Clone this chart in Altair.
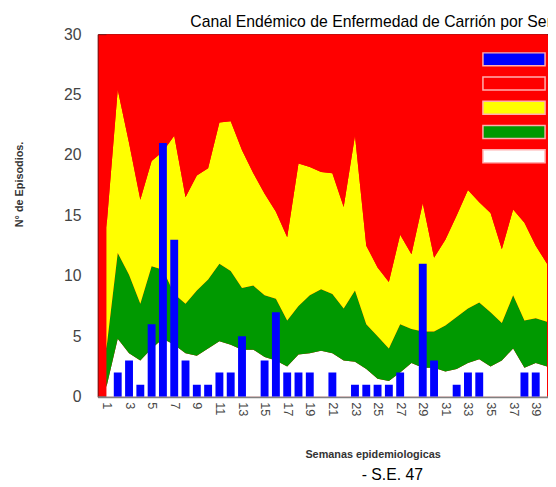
import altair as alt
import pandas as pd

# ---- data ----
semanas = list(range(1, 41))
casos = [0, 2, 3, 1, 6, 21, 13, 3, 1, 1, 2, 2, 5, 0, 3, 7, 2, 2, 2, 0,
         2, 0, 1, 1, 1, 1, 2, 0, 11, 3, 0, 1, 2, 2, 0, 0, 0, 2, 2, 0]
exito = [0.8, 4.8, 3.6, 3.0, 4.0, 4.8, 4.3, 3.6, 3.4, 4.0, 4.6, 4.3, 3.9, 3.9, 3.3, 3.0,
         2.5, 3.5, 3.6, 3.8, 3.6, 3.0, 2.9, 2.3, 1.5, 1.3, 2.0, 2.8, 2.4, 2.4, 2.1, 2.3,
         2.8, 3.1, 2.5, 3.0, 4.0, 2.4, 2.8, 2.5]
seguridad = [4.0, 11.9, 10.1, 7.7, 10.8, 10.5, 8.5, 7.7, 8.8, 9.7, 11.0, 10.4, 9.0, 9.2,
             8.4, 8.1, 6.3, 7.5, 8.4, 8.9, 8.5, 7.3, 8.8, 6.0, 5.0, 4.0, 6.0, 5.6, 5.4, 5.4,
             5.9, 6.6, 7.3, 7.8, 7.0, 6.1, 8.4, 6.3, 6.5, 6.2]
alarma = [14.0, 25.4, 21.0, 16.3, 19.5, 20.3, 21.6, 16.5, 18.3, 18.9, 22.7, 22.8, 20.4,
          18.5, 16.8, 15.3, 13.2, 19.3, 19.0, 18.6, 18.5, 15.7, 21.6, 12.5, 10.7, 9.5,
          13.4, 11.8, 16.0, 11.5, 13.0, 15.0, 17.1, 16.1, 15.2, 12.2, 15.5, 14.4, 12.5, 11.0]
techo = 30

series = ["Casos", "Epidemia", "Alarma", "Seguridad", "Éxito"]
colores = ["#0000FF", "#FF0000", "#FFFF00", "#009900", "#FFFFFF"]
etiquetas_x = list(range(1, 40, 2))
etiquetas_y = [0, 5, 10, 15, 20, 25, 30]

rows = []
for i, w in enumerate(semanas):
    rows.append(dict(semana=w, serie="Éxito", lo=0, hi=exito[i]))
    rows.append(dict(semana=w, serie="Seguridad", lo=exito[i], hi=seguridad[i]))
    rows.append(dict(semana=w, serie="Alarma", lo=seguridad[i], hi=alarma[i]))
    rows.append(dict(semana=w, serie="Epidemia", lo=alarma[i], hi=techo))
areas_df = pd.DataFrame(rows)
bars_df = pd.DataFrame(dict(semana=semanas[:39], casos=casos[:39], serie="Casos"))

FONT = "Liberation Sans"
x_scale = alt.Scale(domain=[0.66, 39.65], nice=False, zero=False)
y_scale = alt.Scale(domain=[0, 30], nice=False)
color_scale = alt.Scale(domain=series, range=colores)

legend = alt.Legend(
    title=None, orient="none", legendX=415, legendY=18,
    symbolType="M-4.85,-1H4.85V1H-4.85Z", symbolSize=169,
    symbolStrokeColor="#ffb0b0", symbolStrokeWidth=1.5, symbolOpacity=1,
    rowPadding=5.6, labelOffset=40, labelFontSize=11, labelFont=FONT,
    labelColor="black", labelExpr="''", padding=0,
)

x_axis = alt.Axis(
    values=etiquetas_x, labelAngle=90, labelPadding=5, labelFontSize=13,
    labelFont=FONT, labelColor="#444444", ticks=False, grid=False,
    domain=True, domainColor="#808080", domainWidth=2, labelOverlap=False,
    labelFlush=False, labelSeparation=0,
    title="Semanas epidemiologicas", titleX=279, titleY=59,
    titleFontSize=11, titleFont=FONT, titleFontWeight="bold",
    titleColor="#333333", titleBaseline="middle",
)
y_axis = alt.Axis(
    values=etiquetas_y, ticks=False, domain=False, grid=False,
    labelPadding=17, labelFontSize=16, labelFont=FONT, labelColor="#444444",
    title="N° de Episodios.", titleX=-79, titleY=152, titleFontSize=11,
    titleFont=FONT, titleFontWeight="bold", titleColor="#333333",
    titleBaseline="middle", titleAlign="center",
)

areas = alt.Chart(areas_df).mark_area(interpolate="linear", clip=True, opacity=1).encode(
    x=alt.X("semana:Q", scale=x_scale, axis=x_axis),
    y=alt.Y("hi:Q", scale=y_scale, axis=y_axis, stack=None),
    y2="lo:Q",
    color=alt.Color("serie:N", scale=color_scale, legend=legend),
)

bars = alt.Chart(bars_df).mark_bar(size=8, clip=True, opacity=1).encode(
    x=alt.X("semana:Q", scale=x_scale, axis=x_axis),
    y=alt.Y("casos:Q", scale=y_scale, axis=y_axis),
    color=alt.Color("serie:N", scale=color_scale, legend=legend),
)

nota = alt.Chart(pd.DataFrame({"t": ["- S.E.  47"]})).mark_text(
    font=FONT, fontSize=16, align="center", baseline="middle", color="black"
).encode(x=alt.value(299), y=alt.value(447), text="t:N")

chart = alt.layer(areas, bars, nota).properties(
    width=457, height=368,
    autosize=alt.AutoSizeParams(type="none"),
    padding={"left": 91, "top": 23, "right": 0, "bottom": 86},
    title=alt.TitleParams(
        text="Canal Endémico de Enfermedad de Carrión por Semanas Epidemiológicas",
        anchor="start", dx=94, dy=7, offset=3, fontSize=16, font=FONT,
        fontWeight="normal", color="black", frame="group",
    ),
).configure_view(fill="#FF0000", stroke="#6b0000", strokeWidth=1)

chart.save("out.html", embed_options={"renderer": "svg", "actions": False})
